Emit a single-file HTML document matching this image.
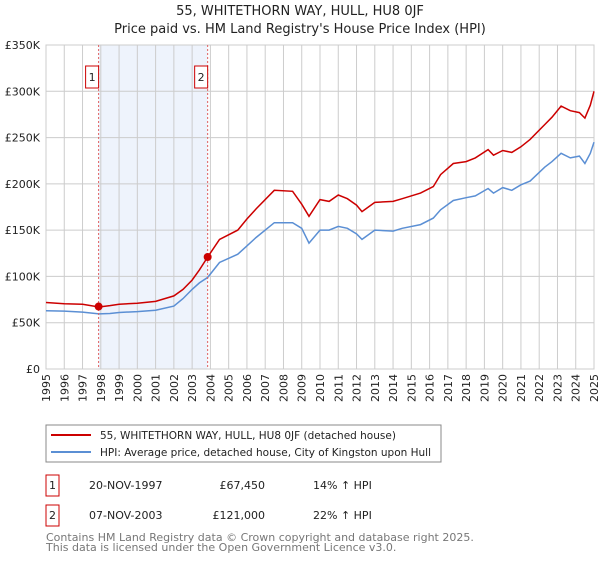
<!DOCTYPE html>
<html><head><meta charset="utf-8"><style>
body{margin:0;background:#fff;font-family:"DejaVu Sans","Liberation Sans",sans-serif;}
svg text{font-family:"DejaVu Sans","Liberation Sans",sans-serif;}
</style></head><body>
<svg id="chart" width="600" height="560" xmlns="http://www.w3.org/2000/svg">
<text x="300" y="15" text-anchor="middle" font-size="13" fill="#222">55, WHITETHORN WAY, HULL, HU8 0JF</text>
<text x="300" y="33" text-anchor="middle" font-size="13" fill="#222">Price paid vs. HM Land Registry's House Price Index (HPI)</text>
<g id="grid"></g><g id="series"></g><g id="marks"></g>
<g>
<rect x="46" y="425" width="395" height="37" fill="#fff" stroke="#888"/>
<line x1="51" y1="435" x2="91" y2="435" stroke="#cc0000" stroke-width="2"/>
<text x="100" y="439" font-size="10.5" fill="#222">55, WHITETHORN WAY, HULL, HU8 0JF (detached house)</text>
<line x1="51" y1="452" x2="91" y2="452" stroke="#5b8fd4" stroke-width="2"/>
<text x="100" y="456" font-size="10.5" fill="#222">HPI: Average price, detached house, City of Kingston upon Hull</text>
</g>
<g font-size="11" fill="#222">
<rect x="46" y="475" width="13" height="21" fill="#fff" stroke="#cc0000"/><text x="52.5" y="489" text-anchor="middle">1</text>
<text x="89" y="489">20-NOV-1997</text><text x="265" y="489" text-anchor="end">£67,450</text><text x="313" y="489">14% ↑ HPI</text>
<rect x="46" y="505" width="13" height="21" fill="#fff" stroke="#cc0000"/><text x="52.5" y="519" text-anchor="middle">2</text>
<text x="89" y="519">07-NOV-2003</text><text x="265" y="519" text-anchor="end">£121,000</text><text x="313" y="519">22% ↑ HPI</text>
</g>
<text x="46" y="541" font-size="11" fill="#777">Contains HM Land Registry data © Crown copyright and database right 2025.</text>
<text x="46" y="551" font-size="11" fill="#777">This data is licensed under the Open Government Licence v3.0.</text>
</svg>
<script>
const yTicks=[0,50000,100000,150000,200000,250000,300000,350000];
const yTickLabels=["£0","£50K","£100K","£150K","£200K","£250K","£300K","£350K"];
const years=[1995,1996,1997,1998,1999,2000,2001,2002,2003,2004,2005,2006,2007,2008,2009,2010,2011,2012,2013,2014,2015,2016,2017,2018,2019,2020,2021,2022,2023,2024,2025];
const seriesT=[1995,1996,1997,1997.9,1998.5,1999,2000,2001,2002,2002.5,2003,2003.4,2003.85,2004.5,2005.5,2006,2006.5,2007.5,2008.5,2009,2009.4,2010,2010.5,2011,2011.5,2012,2012.3,2013,2014,2014.5,2015.5,2016.2,2016.6,2017.3,2018,2018.5,2019.2,2019.5,2020,2020.5,2021,2021.5,2022.3,2022.7,2023.2,2023.7,2024.2,2024.5,2024.8,2025];
const propertyValues=[71.8,70.5,70,67,68.5,70,71,73,79,86,96,107,121,140,150,162,173,193,192,178,165,183,181,188,184,177,170,180,181,184,190,197,210,222,224,228,237,231,236,234,240,248,264,272,284,279,277,271,285,300];
const hpiValues=[63,62.5,61.5,59.5,60,61,62,63.5,68,76,86,93,99,115,124,133,142,158,158,152,136,150,150,154,152,146,140,150,149,152,156,163,172,182,185,187,195,190,196,193,199,203,218,224,233,228,230,222,233,245];
const saleT=[1997.88,2003.85];
const saleV=[67450,121000];
const saleLabels=["1","2"];
const X0=46,X1=594,Y0=369,Y1=45;
const xs=t=>X0+(t-1995)/30*(X1-X0);
const ys=v=>Y0-v/350000*(Y0-Y1);
const NS="http://www.w3.org/2000/svg";
function mk(tag,attrs,parent,text){const e=document.createElementNS(NS,tag);for(const k in attrs)e.setAttribute(k,attrs[k]);if(text!==undefined)e.textContent=text;parent.appendChild(e);return e;}
const grid=document.getElementById('grid'),ser=document.getElementById('series'),marks=document.getElementById('marks');
const shade=mk('rect',{x:xs(saleT[0]),y:Y1,width:xs(saleT[1])-xs(saleT[0]),height:Y0-Y1,fill:'#eef3fc'},grid);


years.forEach(y=>{
 const l=mk('line',{x1:xs(y),x2:xs(y),y1:Y1,y2:Y0,stroke:'#ccc'},grid);
 
 
 const t=mk('text',{transform:`translate(${xs(y)+4},${Y0+5}) rotate(-90)`,'text-anchor':'end','font-size':11,fill:'#222'},grid,String(y));
 
 
});
yTicks.forEach((v,i)=>{
 const l=mk('line',{x1:X0,x2:X1,y1:ys(v),y2:ys(v),stroke:'#ccc'},grid);
 
 
 const t=mk('text',{x:X0-6,y:ys(v)+4,'text-anchor':'end','font-size':11,fill:'#222'},grid,yTickLabels[i]);
 
 
});
const ax=mk('rect',{x:X0,y:Y1,width:X1-X0,height:Y0-Y1,fill:'none',stroke:'#ccc'},grid);


function path(vals){return vals.map((v,i)=>(i?'L':'M')+xs(seriesT[i]).toFixed(1)+','+ys(v*1000).toFixed(1)).join('');}
const hp=mk('path',{d:path(hpiValues),fill:'none',stroke:'#5b8fd4','stroke-width':1.5},ser);


const pp=mk('path',{d:path(propertyValues),fill:'none',stroke:'#cc0000','stroke-width':1.5},ser);


saleT.forEach((t,i)=>{
 const l=mk('line',{x1:xs(t),x2:xs(t),y1:Y1,y2:Y0,stroke:'#e06060','stroke-dasharray':'2,2'},marks);
 
 
 const c=mk('circle',{cx:xs(t),cy:ys(saleV[i]),r:4,fill:'#cc0000'},marks);
 
 
 const b=mk('rect',{x:xs(t)-13,y:66,width:13,height:22,fill:'#fff',stroke:'#cc0000'},marks);
 
 
 const tx=mk('text',{x:xs(t)-6.5,y:81,'text-anchor':'middle','font-size':11,fill:'#222'},marks,saleLabels[i]);
 
 
});
</script>
</body></html>
